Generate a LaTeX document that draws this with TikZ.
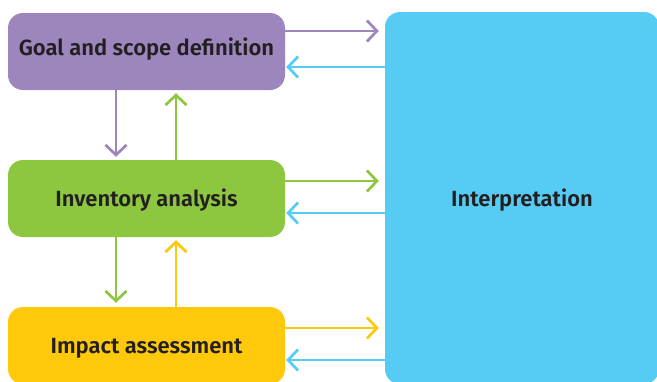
\documentclass[tikz,border=0pt]{standalone}
\usepackage{fontspec}
\setmainfont{Fira Sans}[BoldFont={* SemiBold}]
\usetikzlibrary{arrows.meta}
\definecolor{goalcol}{HTML}{9D85BE}
\definecolor{invcol}{HTML}{8DC63F}
\definecolor{impcol}{HTML}{FFC90B}
\definecolor{intcol}{HTML}{56CCF5}
\definecolor{txtcol}{HTML}{231F20}
\tikzset{
  phase/.style={rounded corners=15pt, minimum width=277pt, minimum height=77pt, inner sep=0pt,
    text height=19pt, text depth=3pt, font=\fontsize{22}{25}\selectfont\bfseries, text=txtcol},
  flow/.style={line width=2.7pt, -{Straight Barb[length=10pt,width=21pt]}},
}
\begin{document}
\begin{tikzpicture}[x=1pt,y=-1pt]
		\useasboundingbox (0,0) rectangle (657,381);
		\clip (0,0) rectangle (657,381);
		\node[phase, fill=goalcol, text height=14pt, text depth=6pt] (goal) at (146.5,51.5) {Goal and scope definition}; %goal
		\node[phase, fill=invcol] (inv) at (146.5,198.5) {Inventory analysis}; %inventory
		\node[phase, fill=impcol] (imp) at (146.5,345.5) {Impact assessment}; %impact
		\node[phase, fill=intcol, minimum width=274pt, minimum height=372pt] (int) at (522,198) {Interpretation}; %interpretation
		% to and from interpretation
		\draw[flow, goalcol, shorten >=6pt] ([yshift=20.5pt]goal.east) -- ([yshift=20.5pt]goal.east -| int.west);
		\draw[flow, intcol, shorten >=1pt] ([yshift=-15.5pt]goal.east -| int.west) -- ([yshift=-15.5pt]goal.east);
		\draw[flow, invcol, shorten >=6pt] ([yshift=17.5pt]inv.east) -- ([yshift=17.5pt]inv.east -| int.west);
		\draw[flow, intcol, shorten >=1pt] ([yshift=-14.5pt]inv.east -| int.west) -- ([yshift=-14.5pt]inv.east);
		\draw[flow, impcol, shorten >=6pt] ([yshift=17.5pt]imp.east) -- ([yshift=17.5pt]imp.east -| int.west);
		\draw[flow, intcol, shorten >=1pt] ([yshift=-14.5pt]imp.east -| int.west) -- ([yshift=-14.5pt]imp.east);
		% between the phases
		\draw[flow, goalcol, shorten >=3pt] ([xshift=-30.5pt]goal.south) -- ([xshift=-30.5pt]inv.north);
		\draw[flow, invcol, shorten >=3pt] ([xshift=29.5pt]inv.north) -- ([xshift=29.5pt]goal.south);
		\draw[flow, invcol, shorten >=4pt] ([xshift=-30.5pt]inv.south) -- ([xshift=-30.5pt]imp.north);
		\draw[flow, impcol, shorten >=3pt] ([xshift=29.5pt]imp.north) -- ([xshift=29.5pt]inv.south);
	\end{tikzpicture}
\end{document}
